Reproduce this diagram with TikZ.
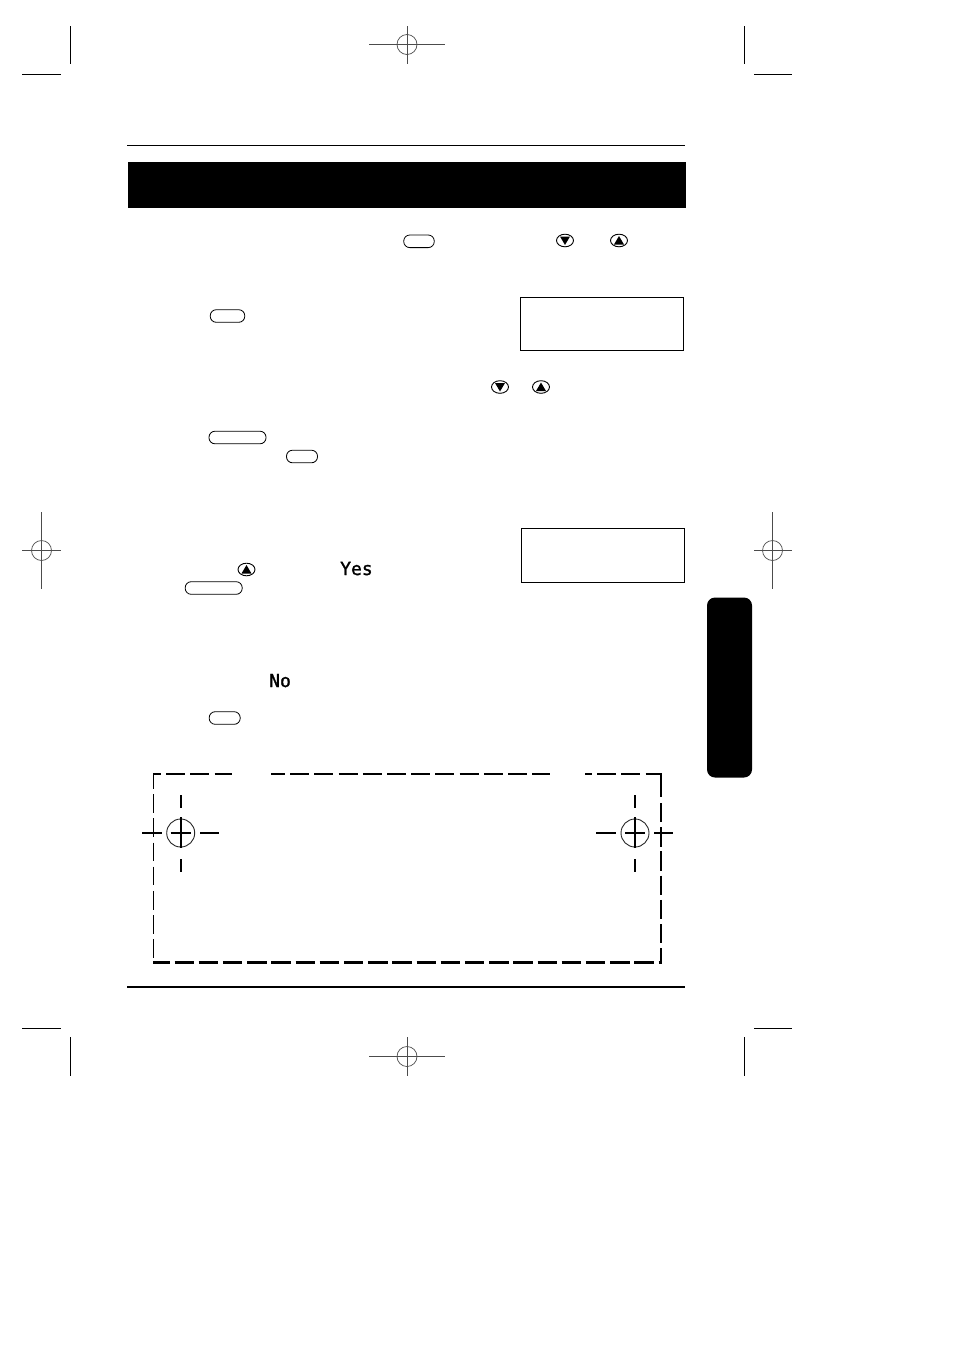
\documentclass[tikz,border=0pt]{standalone}
\usepackage{fontspec}
\setmonofont[FakeBold=1.5]{DejaVu Sans Mono}
\usetikzlibrary{shapes.geometric}
\tikzset{
  keybtn/.style={draw=black,line width=0.8pt,rectangle,rounded corners=6pt,inner sep=0pt,minimum height=12.6pt},
  arrowbtn/.style={draw=black,line width=0.9pt,ellipse,inner sep=0pt,minimum width=17pt,minimum height=12.6pt},
  lcdbox/.style={draw=black,line width=1pt},
  crop/.style={black,line width=1pt},
  regline/.style={black!70,line width=0.7pt},
  cutline/.style={black,line width=2.2pt,dash pattern=on 19pt off 5.2pt},
  cutedge/.style={black,dash pattern=on 19.4pt off 4.8pt},
  cutmark/.style={black,line width=2pt},
  crossmark/.style={black,line width=1.7pt},
  lcdword/.style={inner sep=0pt,font=\fontsize{18}{20}\selectfont\ttfamily}
}
\begin{document}
\begin{tikzpicture}[x=1pt,y=1pt]
\useasboundingbox (0,0) rectangle (954,-1350);
% crop marks
\draw [crop] (70.5,-26) -- (70.5,-64);
\draw [crop] (22,-74.5) -- (61,-74.5);
\draw [crop] (744.5,-26) -- (744.5,-64);
\draw [crop] (754,-74.5) -- (792,-74.5);
\draw [crop] (22,-1028) -- (61,-1028);
\draw [crop] (70.5,-1037) -- (70.5,-1076);
\draw [crop] (754,-1028) -- (792,-1028);
\draw [crop] (744.5,-1037) -- (744.5,-1076);
% registration marks
\draw [regline] (407,-44.5) circle (10);
\draw [regline] (369,-44.5) -- (445,-44.5);
\draw [regline] (407,-26) -- (407,-64);
\draw [regline] (41.5,-550.5) circle (10);
\draw [regline] (22,-550.5) -- (61,-550.5);
\draw [regline] (41.5,-512) -- (41.5,-589);
\draw [regline] (772.5,-550.5) circle (10);
\draw [regline] (754,-550.5) -- (792,-550.5);
\draw [regline] (772.5,-512) -- (772.5,-589);
\draw [regline] (407,-1056.5) circle (10);
\draw [regline] (369,-1056.5) -- (445,-1056.5);
\draw [regline] (407,-1037) -- (407,-1076);
% rules and heading bar
\draw [black,line width=1pt] (127,-145.5) -- (685,-145.5);
\fill [black] (128,-162) rectangle (686,-208);
\draw [black,line width=2pt] (127,-987) -- (685,-987);
% side tab
\fill [black,rounded corners=8pt] (707,-597.5) rectangle (752,-777.5);
% keys
\node [keybtn,minimum width=30.5pt] (menuKeyA) at (419,-241.3) {};
\node [keybtn,minimum width=34.5pt] (menuKeyB) at (227.5,-316) {};
\node [keybtn,minimum width=57pt] (enterKeyA) at (237.5,-437.5) {};
\node [keybtn,minimum width=31pt] (exitKeyA) at (302,-456.5) {};
\node [keybtn,minimum width=57pt] (enterKeyB) at (213.7,-588) {};
\node [keybtn,minimum width=31pt] (exitKeyB) at (224.7,-718) {};
% scroll buttons
\node [arrowbtn] (downA) at (565,-240.5) {};
\node [arrowbtn] (upA) at (619,-240.5) {};
\node [arrowbtn] (downB) at (500,-387) {};
\node [arrowbtn] (upB) at (541,-387) {};
\node [arrowbtn] (upC) at (246.5,-569.5) {};
\fill [black] (downA.center) ++(-5,4) -- ++(10,0) -- ++(-5,-8.5) -- cycle;
\fill [black] (upA.center) ++(-5,-4) -- ++(10,0) -- ++(-5,8.5) -- cycle;
\fill [black] (downB.center) ++(-5,4) -- ++(10,0) -- ++(-5,-8.5) -- cycle;
\fill [black] (upB.center) ++(-5,-4) -- ++(10,0) -- ++(-5,8.5) -- cycle;
\fill [black] (upC.center) ++(-5,-4) -- ++(10,0) -- ++(-5,8.5) -- cycle;
% display boxes
\draw [lcdbox] (520.5,-297.5) rectangle (683.5,-350.5);
\draw [lcdbox] (521.5,-528.5) rectangle (684.5,-582.5);
% display words
\node [lcdword,anchor=base west] (yesWord) at (340,-575) {Yes};
\node [lcdword,anchor=base west] (noWord) at (269,-687) {No};
% cut out border
\draw [cutline,dash phase=11.5pt] (153.5,-774) -- (232,-774);
\draw [cutline,dash phase=5pt] (271,-774) -- (549.5,-774);
\draw [cutline,dash phase=12pt] (585,-774) -- (661.5,-774);
\draw [cutedge,line width=2.2pt,dash phase=3pt] (153.3,-962.5) -- (661.5,-962.5);
\draw [black,line width=1.1pt,dash pattern=on 18.7pt off 5.5pt,dash phase=3.1pt] (153.3,-773) -- (153.3,-963);
\draw [black,line width=2pt] (660.8,-773) -- (660.8,-797);
\draw [cutedge,line width=2pt] (660.8,-803) -- (660.8,-963.5);
% hole marks
\draw [black!85,line width=0.9pt] (180.7,-833) circle (14);
\draw [crossmark] (170.7,-833) -- (190.7,-833);
\draw [crossmark] (180.7,-817) -- (180.7,-848);
\draw [cutmark] (180.7,-795) -- (180.7,-808);
\draw [cutmark] (180.7,-859) -- (180.7,-872);
\draw [cutmark] (142,-833) -- (161.5,-833);
\draw [cutmark] (200,-833) -- (219,-833);
\draw [black!85,line width=0.9pt] (635,-833) circle (14);
\draw [crossmark] (625,-833) -- (645,-833);
\draw [crossmark] (635,-817) -- (635,-848);
\draw [cutmark] (635,-795) -- (635,-808);
\draw [cutmark] (635,-859) -- (635,-872);
\draw [cutmark] (596,-833) -- (616,-833);
\draw [cutmark] (654,-833) -- (673,-833);
\end{tikzpicture}
\end{document}
